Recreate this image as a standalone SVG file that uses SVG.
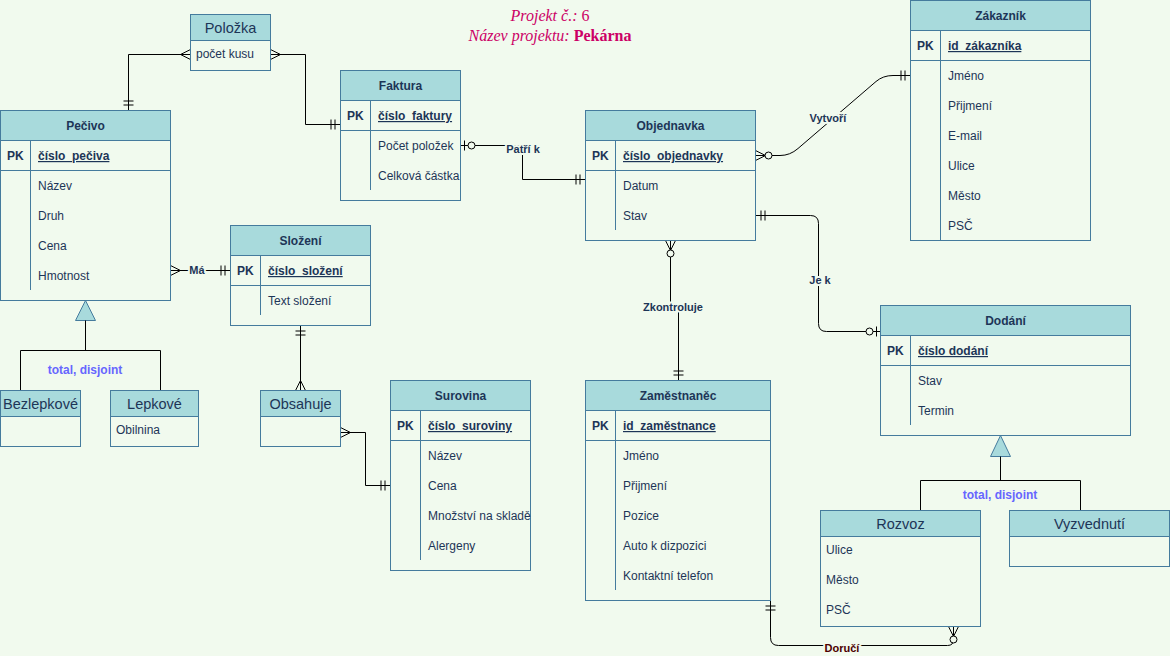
<svg xmlns="http://www.w3.org/2000/svg" width="1170" height="656" viewBox="0 0 1170 656">
<style>
.bg{fill:#F1FAEE}
.box{fill:#F1FAEE;stroke:#457B9D;stroke-width:1}
.hdr{fill:#A8DADC;stroke:#457B9D;stroke-width:1}
.sep{stroke:#457B9D;stroke-width:1;fill:none}
.t{font-family:"Liberation Sans",Arial,sans-serif;font-size:12px;fill:#1D3557}
.b{font-weight:bold}
.u{text-decoration:underline}
.c{text-anchor:middle}
.big{font-size:14.5px}
.con{fill:none;stroke:#000;stroke-width:1}
.lbl{font-family:"Liberation Sans",Arial,sans-serif;font-size:11px;font-weight:bold;fill:#1D3557;text-anchor:middle;paint-order:stroke;stroke:#F1FAEE;stroke-width:4px;stroke-linejoin:round}
.gen{font-family:"Liberation Sans",Arial,sans-serif;font-size:12px;font-weight:bold;fill:#6666FF;text-anchor:middle}
.tri{fill:#A8DADC;stroke:#457B9D;stroke-width:1}
.ttl{font-family:"Liberation Serif","Times New Roman",serif;font-size:16px;fill:#CC0066;text-anchor:middle}
.mk{fill:none;stroke:#000;stroke-width:1}
.mc{fill:#F1FAEE;stroke:#000;stroke-width:1}
</style>
<defs>
<marker id="one" markerUnits="userSpaceOnUse" viewBox="-20 -10 20 20" markerWidth="20" markerHeight="20" refX="0" refY="0" orient="auto-start-reverse" overflow="visible">
<path class="mk" d="M-5.5,-5 V5 M-9.5,-5 V5"/>
</marker>
<marker id="many" markerUnits="userSpaceOnUse" viewBox="-20 -10 20 20" markerWidth="20" markerHeight="20" refX="0" refY="0" orient="auto-start-reverse" overflow="visible">
<path class="mk" d="M0,-5 L-10,0 L0,5"/>
</marker>
<marker id="zmany" markerUnits="userSpaceOnUse" viewBox="-20 -10 20 20" markerWidth="20" markerHeight="20" refX="0" refY="0" orient="auto-start-reverse" overflow="visible">
<path class="mk" d="M0,-5 L-10,0 L0,5"/>
<circle class="mc" cx="-13" cy="0" r="3.5"/>
</marker>
<marker id="zone" markerUnits="userSpaceOnUse" viewBox="-20 -10 20 20" markerWidth="20" markerHeight="20" refX="0" refY="0" orient="auto-start-reverse" overflow="visible">
<path class="mk" d="M-4,-5 V5"/>
<circle class="mc" cx="-11" cy="0" r="3.5"/>
</marker>
</defs>
<rect class="bg" x="0" y="0" width="1170" height="656"/>

<text class="ttl" x="550" y="21"><tspan font-style="italic">Projekt č.:</tspan> 6</text>
<text class="ttl" x="550" y="41"><tspan font-style="italic">Název projektu:</tspan> <tspan font-weight="bold">Pekárna</tspan></text>

<g id="connectors">
<path class="con" d="M190.5,54.5 H128.5 V110.5" marker-start="url(#many)" marker-end="url(#one)"/>
<path class="con" d="M270.5,54.5 H305.5 V124.5 H340.5" marker-start="url(#many)" marker-end="url(#one)"/>
<path class="con" d="M460.5,145.5 H522.5 V179.5 H585.5" marker-start="url(#zone)" marker-end="url(#one)"/>
<path class="con" d="M755.5,155.5 H780 Q790,155.5 798,148.5 L876,81.5 Q883,75.5 893,75.5 H910.5" marker-start="url(#zmany)" marker-end="url(#one)"/>
<path class="con" d="M755.5,215.5 H810.5 Q818.5,215.5 818.5,223.5 V323.5 Q818.5,331.5 826.5,331.5 H880.5" marker-start="url(#one)" marker-end="url(#zone)"/>
<path class="con" d="M670.5,240.5 V307 H678.5 V380.5" marker-start="url(#zmany)" marker-end="url(#one)"/>
<path class="con" d="M770.5,600.5 V637.5 Q770.5,645.5 778.5,645.5 H947.5 Q953.5,645.5 953.5,639.5 V626.5" marker-start="url(#one)" marker-end="url(#zmany)"/>
<path class="con" d="M170.5,270.5 H230.5" marker-start="url(#many)" marker-end="url(#one)"/>
<path class="con" d="M300.5,325.5 V390.5" marker-start="url(#one)" marker-end="url(#many)"/>
<path class="con" d="M340.5,432.5 H365.5 V485.5 H390.5" marker-start="url(#many)" marker-end="url(#one)"/>
<text class="lbl" x="523" y="153">Patří k</text>
<text class="lbl" x="828" y="122">Vytvoří</text>
<text class="lbl" x="820" y="284">Je k</text>
<text class="lbl" x="673" y="311">Zkontroluje</text>
<text class="lbl" x="842" y="652" style="fill:#4C0000">Doručí</text>
<text class="lbl" x="197" y="274">Má</text>
<polygon class="tri" points="85.5,300.5 75.5,320.5 95.5,320.5"/>
<path class="con" d="M85.5,320.5 V350.5 M20.5,390.5 V350.5 H160.5 V390.5"/>
<text class="gen" x="85" y="374">total, disjoint</text>
<polygon class="tri" points="1000.5,435.5 990.5,456.5 1010.5,456.5"/>
<path class="con" d="M1000.5,456.5 V480.5 M920.5,510.5 V480.5 H1080.5 V510.5"/>
<text class="gen" x="1000" y="499">total, disjoint</text>
</g>

<g id="polozka">
<rect class="box" x="190.5" y="14.5" width="80" height="56"/>
<rect class="hdr" x="190.5" y="14.5" width="80" height="26"/>
<text class="t c big" x="230.5" y="33">Položka</text>
<text class="t" x="196" y="58">počet kusu</text>
</g>

<g id="pecivo">
<rect class="box" x="0.5" y="110.5" width="170" height="190"/>
<rect class="hdr" x="0.5" y="110.5" width="170" height="30"/>
<path class="sep" d="M0.5,170.5 H170.5 M30.5,140.5 V290"/>
<text class="t b c" x="85.5" y="130">Pečivo</text>
<text class="t b" x="7" y="160">PK</text>
<text class="t b u" x="38" y="160">číslo_pečiva</text>
<text class="t" x="38" y="190">Název</text>
<text class="t" x="38" y="220">Druh</text>
<text class="t" x="38" y="250">Cena</text>
<text class="t" x="38" y="280">Hmotnost</text>
</g>

<g id="faktura">
<rect class="box" x="340.5" y="70.5" width="120" height="130"/>
<rect class="hdr" x="340.5" y="70.5" width="120" height="30"/>
<path class="sep" d="M340.5,130.5 H460.5 M370.5,100.5 V190"/>
<text class="t b c" x="400.5" y="90">Faktura</text>
<text class="t b" x="347" y="120">PK</text>
<text class="t b u" x="378" y="120">číslo_faktury</text>
<text class="t" x="378" y="150">Počet položek</text>
<text class="t" x="378" y="180">Celková částka</text>
</g>

<g id="objednavka">
<rect class="box" x="585.5" y="110.5" width="170" height="130"/>
<rect class="hdr" x="585.5" y="110.5" width="170" height="30"/>
<path class="sep" d="M585.5,170.5 H755.5 M615.5,140.5 V230"/>
<text class="t b c" x="670.5" y="130">Objednavka</text>
<text class="t b" x="592" y="160">PK</text>
<text class="t b u" x="623" y="160">číslo_objednavky</text>
<text class="t" x="623" y="190">Datum</text>
<text class="t" x="623" y="220">Stav</text>
</g>

<g id="zakaznik">
<rect class="box" x="910.5" y="0.5" width="180" height="240"/>
<rect class="hdr" x="910.5" y="0.5" width="180" height="30"/>
<path class="sep" d="M910.5,60.5 H1090.5 M940.5,30.5 V240"/>
<text class="t b c" x="1000.5" y="20">Zákazník</text>
<text class="t b" x="917" y="50">PK</text>
<text class="t b u" x="948" y="50">id_zákazníka</text>
<text class="t" x="948" y="80">Jméno</text>
<text class="t" x="948" y="110">Přijmení</text>
<text class="t" x="948" y="140">E-mail</text>
<text class="t" x="948" y="170">Ulice</text>
<text class="t" x="948" y="200">Město</text>
<text class="t" x="948" y="230">PSČ</text>
</g>

<g id="slozeni">
<rect class="box" x="230.5" y="225.5" width="140" height="100"/>
<rect class="hdr" x="230.5" y="225.5" width="140" height="30"/>
<path class="sep" d="M230.5,285.5 H370.5 M260.5,255.5 V315"/>
<text class="t b c" x="300.5" y="245">Složení</text>
<text class="t b" x="237" y="275">PK</text>
<text class="t b u" x="268" y="275">číslo_složení</text>
<text class="t" x="268" y="305">Text složení</text>
</g>

<g id="surovina">
<rect class="box" x="390.5" y="380.5" width="140" height="190"/>
<rect class="hdr" x="390.5" y="380.5" width="140" height="30"/>
<path class="sep" d="M390.5,440.5 H530.5 M420.5,410.5 V560"/>
<text class="t b c" x="460.5" y="400">Surovina</text>
<text class="t b" x="397" y="430">PK</text>
<text class="t b u" x="428" y="430">číslo_suroviny</text>
<text class="t" x="428" y="460">Název</text>
<text class="t" x="428" y="490">Cena</text>
<text class="t" x="428" y="520">Množství na skladě</text>
<text class="t" x="428" y="550">Alergeny</text>
</g>

<g id="zamestnanec">
<rect class="box" x="585.5" y="380.5" width="185" height="220"/>
<rect class="hdr" x="585.5" y="380.5" width="185" height="30"/>
<path class="sep" d="M585.5,440.5 H770.5 M615.5,410.5 V590"/>
<text class="t b c" x="678" y="400">Zaměstnaněc</text>
<text class="t b" x="592" y="430">PK</text>
<text class="t b u" x="623" y="430">id_zaměstnance</text>
<text class="t" x="623" y="460">Jméno</text>
<text class="t" x="623" y="490">Přijmení</text>
<text class="t" x="623" y="520">Pozice</text>
<text class="t" x="623" y="550">Auto k dizpozici</text>
<text class="t" x="623" y="580">Kontaktní telefon</text>
</g>

<g id="dodani">
<rect class="box" x="880.5" y="305.5" width="250" height="130"/>
<rect class="hdr" x="880.5" y="305.5" width="250" height="30"/>
<path class="sep" d="M880.5,365.5 H1130.5 M910.5,335.5 V425"/>
<text class="t b c" x="1005.5" y="325">Dodání</text>
<text class="t b" x="887" y="355">PK</text>
<text class="t b u" x="918" y="355">číslo dodání</text>
<text class="t" x="918" y="385">Stav</text>
<text class="t" x="918" y="415">Termin</text>
</g>

<g id="bezlepkove">
<rect class="box" x="0.5" y="390.5" width="80" height="56"/>
<rect class="hdr" x="0.5" y="390.5" width="80" height="26"/>
<text class="t c big" x="40.5" y="409">Bezlepkové</text>
</g>

<g id="lepkove">
<rect class="box" x="110.5" y="390.5" width="88" height="56"/>
<rect class="hdr" x="110.5" y="390.5" width="88" height="26"/>
<text class="t c big" x="154.5" y="409">Lepkové</text>
<text class="t" x="116" y="434">Obilnina</text>
</g>

<g id="obsahuje">
<rect class="box" x="260.5" y="390.5" width="80" height="56"/>
<rect class="hdr" x="260.5" y="390.5" width="80" height="26"/>
<text class="t c big" x="300.5" y="409">Obsahuje</text>
</g>

<g id="rozvoz">
<rect class="box" x="820.5" y="510.5" width="160" height="116"/>
<rect class="hdr" x="820.5" y="510.5" width="160" height="26"/>
<text class="t c big" x="900.5" y="529">Rozvoz</text>
<text class="t" x="826" y="554">Ulice</text>
<text class="t" x="826" y="584">Město</text>
<text class="t" x="826" y="614">PSČ</text>
</g>

<g id="vyzvednuti">
<rect class="box" x="1009.5" y="510.5" width="160" height="56"/>
<rect class="hdr" x="1009.5" y="510.5" width="160" height="26"/>
<text class="t c big" x="1089.5" y="529">Vyzvednutí</text>
</g>
</svg>
